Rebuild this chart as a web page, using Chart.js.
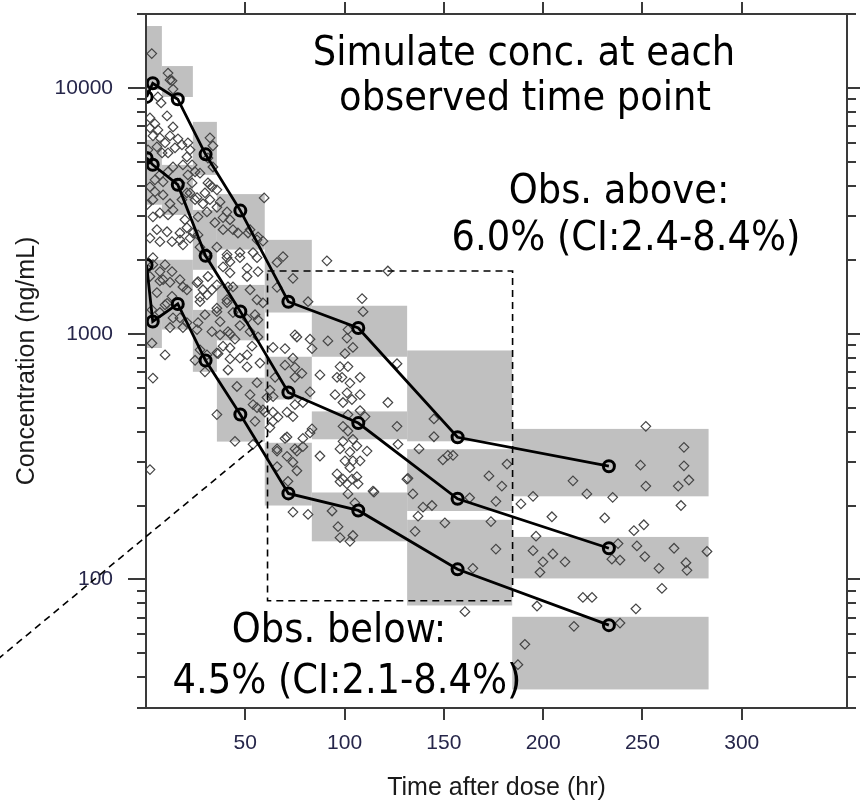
<!DOCTYPE html>
<html>
<head>
<meta charset="utf-8">
<title>VPC - concentration vs time</title>
<script src="https://cdn.jsdelivr.net/npm/chart.js@4.4.1/dist/chart.umd.min.js"></script>
<style>
  html, body { margin: 0; padding: 0; background: #ffffff; }
  #wrap { width: 860px; height: 803px; }
</style>
</head>
<body>
<div id="wrap"><canvas id="vpc" width="860" height="803"></canvas></div>
<script>
// ---- axis ticks ----
const xTicks = [50, 100, 150, 200, 250, 300];
const yTicks = [100, 1000, 10000];

// ---- bins of the simulation (hr) ----
const binEdges = [0, 8, 23.6, 35.7, 59.8, 83.5, 131.5, 184.4, 283.3];

// simulated 95% CI of each percentile, per bin (ng/mL)
const p95Lo = [9815, 9190, 4430, 2200, 1220, 806, 365, 218];
const p95Hi = [17870, 12280, 7280, 3700, 2410, 1300, 855, 410];
const p50Lo = [3350, 3045, 1820, 940, 540, 372, 190, 101];
const p50Hi = [6150, 4865, 3190, 1580, 806, 483, 339, 149];
const p05Lo = [875, 1040, 700, 364, 200, 143, 78.4, 35.7];
const p05Hi = [2000, 2000, 1250, 662, 360, 226, 175, 70.5];

// observed percentiles
const pctTime = [0.3, 3.4, 16, 30, 47.5, 71.7, 106.9, 156.9, 233.1];
const obs95 = [9200, 10450, 9000, 5370, 3170, 1350, 1055, 379, 289];
const obs50 = [5190, 4870, 4040, 2075, 1233, 577, 433, 213, 134];
const obs05 = [1905, 1122, 1322, 778, 469, 224, 191, 110, 65.2];

// observations [time, conc]
const observations = [
  [2.9,13800],[11.1,11500],[13.1,10700],[13.6,9900],[6.0,9200],[7.6,8690],[10.6,7700],[2.0,7550],[4.5,7140],[2.0,6880],
  [6.0,6750],[3.5,6380],[7.0,6270],[13.6,6940],[12.1,6380],[16.1,6210],[9.6,5980],[18.1,5870],[14.6,5710],[21.1,5980],
  [22.2,5600],[20.6,5240],[11.1,5440],[8.1,5440],[5.5,5760],[1.0,5600],[18.6,4865],[23.2,4865],[24.7,4560],[21.1,4430],
  [13.6,4770],[11.1,4560],[7.0,4430],[4.5,4230],[8.6,4150],[23.2,4110],[32.2,6270],[33.7,5820],[31.2,5190],[33.7,4770],
  [31.2,4110],[33.2,3960],[17.1,4110],
  [59.5,3570],[58.9,2380],[12.1,10780],[27.2,4500],[18.1,3510],[22.2,3740],[25.7,3580],[28.7,3380],[32.2,3510],[35.7,3270],
  [38.8,2970],[43.8,2650],[51.4,2570],[55.9,2410],[19.6,2910],[23.7,2570],[17.1,2410],[27.2,2250],[30.7,2120],[35.7,2250],
  [40.8,2100],[47.3,2140],[53.9,2140],
  [2.0,3960],[4.5,3780],[3.5,3510],[0.5,3350],[8.6,3670],[12.1,3380],[7.0,3100],[3.5,2990],[11.1,3045],[13.6,3190],
  [20.6,3740],[24.7,3510],[32.2,4035],[29.7,3740],[35.7,3850],[37.3,3440],[40.8,3130],[30.7,3130],[26.2,2990],[20.6,2700],
  [17.1,2570],[10.6,2600],[5.5,2650],[2.0,2450],[7.0,2370],[13.1,2370],[18.6,2300],[22.2,2450],[26.2,2525],[34.7,2830],
  [38.8,2650],[42.3,2910],[46.3,2570],[52.4,2650],[56.4,2480],[3.5,2040],[9.6,1910],[7.0,1790],[13.1,1790],[2.0,1710],
  [8.6,1660],[17.1,1660],[18.6,1550],[20.6,1510],[26.2,1630],[31.2,1710],[28.7,1510],[33.2,1510],[35.7,1580],[41.3,1550],
  [38.8,1870],[42.3,1960],[47.3,2040],[50.9,1850],[55.9,2040],[56.4,1790],[13.1,1420],[9.6,1310],[7.0,1220],[17.1,1160],
  [18.6,1060],[26.2,1110],[29.7,1195],[27.2,1350],[30.7,1440],[35.7,1270],[40.8,1340],[43.8,1220],[37.3,1120],[33.2,1020],
  [37.3,990],[41.3,1020],[44.8,950],[38.8,890],[35.7,835],[50.9,1150],[54.9,1195],[56.4,1140],[52.4,1020],[56.4,970],
  [53.4,890],[3.0,915],[12.1,1060],[9.6,820],[30.7,820],[50.9,820],
  [3.5,660],[24.7,780],[29.7,700],[36.3,830],[41.3,712],[47.3,795],[50.9,733],[57.4,760],[35.7,469],[44.8,365],
  [53.9,355],[55.9,500],[54.9,440],[59.9,480],[2.0,280],
  [60.9,550],[58.9,490],[63.9,480],[63.9,440],[66,340],[71,380],[74,460],[71,480],[75,515],[66,288],
  [74,300],[75,340],[75,730],[70,870],[64,880],[75,990],[74,1680],[66,1950],[69,2060],[55.9,632],
  [45.8,610],[52.4,565],[53.9,515],[42.3,790],[40.8,2040],[42.3,1770],[50.9,1710],[43.8,1550],[52.4,1510],[55.9,1375],
  [40.8,1375],[42.3,1000],[47.3,1080],[42.3,875],[5.5,1470],[10.6,1330],[3.0,1250],[13.6,1160],[20.6,1110],[25.7,1040],
  [27.2,860],[25.7,1610],[27.2,1410],[35.7,1230],[3.5,1910],[7.0,1640],[12.1,1620],
  [91.1,1980],[121.8,1800],[66,1545],[81.6,1350],[108.8,1390],[109.3,1230],[58.9,1335],[76,970],[82.6,950],[83.6,870],
  [91.6,935],[101.7,1040],[101.2,960],[104.2,880],[100.2,830],[126.4,755],[74,795],[70,745],[78.5,690],[75,665],
  [65,665],[62.4,590],[64,555],[66.5,458],[79,525],[82.6,580],[87.6,680],[97.7,735],[101.7,735],[96.2,665],
  [98.7,665],[102.7,630],[107.8,665],[95.2,565],[101.2,575],[103.7,540],[99.2,525],[107.8,565],[121.8,525],[107.8,487],
  [101.7,469],[110.3,460],[83.6,410],[126.4,420],
  [62.4,415],[70,375],[82.6,395],[79,375],[66,333],[71,317],[76,333],[79,347],[76,277],[71.5,251],
  [87.6,318],[99.2,420],[101.7,402],[99.2,365],[104.2,372],[106.2,350],[97.7,340],[102.7,330],[100.2,304],[104.2,304],
  [107.8,304],[102.7,285],[96.2,269],[99.2,256],[103.7,256],[106.2,262],[106.8,245],[101.2,245],[97.7,250],[111.3,333],
  [114.3,229],[126.9,355],[131.4,256],[101.7,223],[105.2,205],[74,188],[81.6,184],[93.7,190],[96.7,164],[97.7,148],
  [102.7,143],[104.2,151],[135.5,157],[137,181],
  [145,450],[145,381],[137.5,340],[131.9,258],[149.5,307],[152,320],[172.7,264],[179.2,240],[181.8,295],[176.2,208],
  [144,200],[188.8,203],[194.9,218],[215,252],[222,223],[235,216],[249,292],[251.7,240],[270.9,290],[270.9,345],
  [273.4,254],[268,240],[251.7,420],[269.4,200],[114.8,227],[134.4,223],
  [154.6,320],[163,215],[139.5,197],[150.5,170],[173.7,172],[176.2,133],[164.6,111],[160.6,74],[204.4,180],[231,178],
  [245.7,158],[250.7,167],[237.7,140],[238.7,120],[234.6,121],[247.2,137],[251.2,124],[258.3,111],[265.9,134],[271.9,117],
  [272.4,109],[282.5,130],[259.8,92],[246.7,76],[238.7,66.5],[220,84.5],[224.6,84.5],[196.9,78],[215.5,64.5],[194.9,131],
  [199.9,118],[204.9,127],[211,118],[198.4,107],[196.4,150],[190.8,54.5],[187.3,45]
];

// region highlighted by the dashed box and its pointer line
const boxTime = [61.2, 184.6];
const boxConc = [82, 1800];
const pointerTime = [-74.5, 61.2];
const pointerConc = [47.5, 383];

const tickFont = "'Liberation Sans', Arial, sans-serif";
const titleFont = "'Liberation Sans', Arial, sans-serif";
const noteFont = "41px 'DejaVu Sans Condensed', 'DejaVu Sans', sans-serif";

const toXY = (xs, ys) => xs.map((v, i) => ({ x: v, y: ys[i] }));

// grey prediction-interval blocks
const bandsPlugin = {
  id: 'bands',
  beforeDatasetsDraw(chart) {
    const { ctx, chartArea: a, scales: { x, y } } = chart;
    ctx.save();
    ctx.beginPath();
    ctx.rect(a.left, a.top, a.right - a.left, a.bottom - a.top);
    ctx.clip();
    ctx.fillStyle = '#c0c0c0';
    const bands = [[p95Lo, p95Hi], [p50Lo, p50Hi], [p05Lo, p05Hi]];
    for (let i = 0; i < binEdges.length - 1; i++) {
      const x1 = x.getPixelForValue(binEdges[i]);
      const x2 = x.getPixelForValue(binEdges[i + 1]);
      bands.forEach(([lo, hi]) => {
        const y1 = y.getPixelForValue(hi[i]);
        const y2 = y.getPixelForValue(lo[i]);
        ctx.fillRect(x1, y1, x2 - x1, y2 - y1);
      });
    }
    ctx.restore();
  }
};

// box frame with outward ticks on all four sides
const framePlugin = {
  id: 'frame',
  afterDraw(chart) {
    const { ctx, chartArea: a, scales: { x, y } } = chart;
    ctx.save();
    ctx.strokeStyle = '#3a3a3a';
    ctx.lineWidth = 2;
    ctx.strokeRect(a.left, a.top, a.right - a.left, a.bottom - a.top);
    ctx.beginPath();
    xTicks.forEach(v => {
      const px = Math.round(x.getPixelForValue(v));
      ctx.moveTo(px, a.bottom); ctx.lineTo(px, a.bottom + 12);
      ctx.moveTo(px, a.top); ctx.lineTo(px, a.top - 12);
    });
    [10, 100, 1000, 10000].forEach(dec => {
      for (let m = 1; m <= 9; m++) {
        const v = m * dec;
        if (v < y.min || v > y.max) continue;
        const len = m === 1 ? 18 : 9;
        const py = Math.round(y.getPixelForValue(v));
        ctx.moveTo(a.left - len, py); ctx.lineTo(a.left, py);
        ctx.moveTo(a.right, py); ctx.lineTo(a.right + len, py);
      }
    });
    ctx.stroke();
    ctx.restore();
  }
};

// dashed box, pointer and the text notes
const notesPlugin = {
  id: 'notes',
  afterDraw(chart) {
    const { ctx, scales: { x, y } } = chart;
    ctx.save();
    ctx.strokeStyle = '#000';
    ctx.lineWidth = 1.6;
    ctx.setLineDash([7, 5]);
    const bx1 = x.getPixelForValue(boxTime[0]), bx2 = x.getPixelForValue(boxTime[1]);
    const by1 = y.getPixelForValue(boxConc[1]), by2 = y.getPixelForValue(boxConc[0]);
    ctx.strokeRect(bx1, by1, bx2 - bx1, by2 - by1);
    ctx.beginPath();
    ctx.moveTo(x.getPixelForValue(pointerTime[0]), y.getPixelForValue(pointerConc[0]));
    ctx.lineTo(x.getPixelForValue(pointerTime[1]), y.getPixelForValue(pointerConc[1]));
    ctx.stroke();
    ctx.setLineDash([]);

    ctx.fillStyle = '#000';
    ctx.font = noteFont;
    ctx.textAlign = 'center';
    ctx.textBaseline = 'alphabetic';
    const notes = [
      ['Simulate conc. at each', 524, 65],
      ['observed time point', 525, 110],
      ['Obs. above:', 619, 203],
      ['6.0% (CI:2.4-8.4%)', 626, 250],
      ['Obs. below:', 339, 642],
      ['4.5% (CI:2.1-8.4%)', 347, 693]
    ];
    notes.forEach(([t, px, py]) => ctx.fillText(t, px, py));
    ctx.restore();
  }
};

const lineStyle = {
  showLine: true,
  borderColor: '#000',
  borderWidth: 2.8,
  pointStyle: 'circle',
  pointRadius: 5.5,
  pointBorderWidth: 3,
  pointBorderColor: '#000',
  pointBackgroundColor: 'rgba(0,0,0,0)',
  fill: false
};

new Chart(document.getElementById('vpc'), {
  type: 'scatter',
  data: {
    datasets: [
      Object.assign({ label: '95th percentile', data: toXY(pctTime, obs95) }, lineStyle),
      Object.assign({ label: 'Median', data: toXY(pctTime, obs50) }, lineStyle),
      Object.assign({ label: '5th percentile', data: toXY(pctTime, obs05) }, lineStyle),
      {
        label: 'Observed',
        data: observations.map(o => ({ x: o[0], y: o[1] })),
        pointStyle: 'rectRot',
        pointRadius: 4.8,
        pointBorderWidth: 1.2,
        pointBorderColor: '#454545',
        pointBackgroundColor: 'rgba(0,0,0,0)'
      }
    ]
  },
  options: {
    responsive: false,
    animation: false,
    devicePixelRatio: 1,
    layout: { autoPadding: false, padding: { top: 14, right: 13, left: 0, bottom: 0 } },
    plugins: { legend: { display: false }, tooltip: { enabled: false } },
    scales: {
      x: {
        type: 'linear',
        position: 'bottom',
        min: 0,
        max: 353,
        afterBuildTicks: s => { s.ticks = xTicks.map(v => ({ value: v })); },
        afterFit: s => { s.height = 95; s.paddingLeft = 0; s.paddingRight = 0; },
        grid: { display: false, drawTicks: false },
        border: { display: false },
        ticks: {
          autoSkip: false,
          maxRotation: 0,
          padding: 23,
          color: '#26264a',
          font: { family: tickFont, size: 21 }
        },
        title: {
          display: true,
          text: 'Time after dose (hr)',
          color: '#1a1a1a',
          font: { family: titleFont, size: 25 },
          padding: { top: 0, bottom: 0 }
        }
      },
      y: {
        type: 'logarithmic',
        position: 'left',
        min: 30,
        max: 20000,
        afterBuildTicks: s => { s.ticks = yTicks.map(v => ({ value: v, major: true })); },
        afterFit: s => { s.width = 146; s.paddingTop = 0; s.paddingBottom = 0; },
        grid: { display: false, drawTicks: false },
        border: { display: false },
        ticks: {
          autoSkip: false,
          padding: 33,
          color: '#26264a',
          font: { family: tickFont, size: 21 },
          callback: v => String(v)
        },
        title: {
          display: true,
          text: 'Concentration (ng/mL)',
          color: '#1a1a1a',
          font: { family: titleFont, size: 25 },
          padding: { top: 12, bottom: 0 }
        }
      }
    }
  },
  plugins: [bandsPlugin, framePlugin, notesPlugin]
});
</script>
</body>
</html>
